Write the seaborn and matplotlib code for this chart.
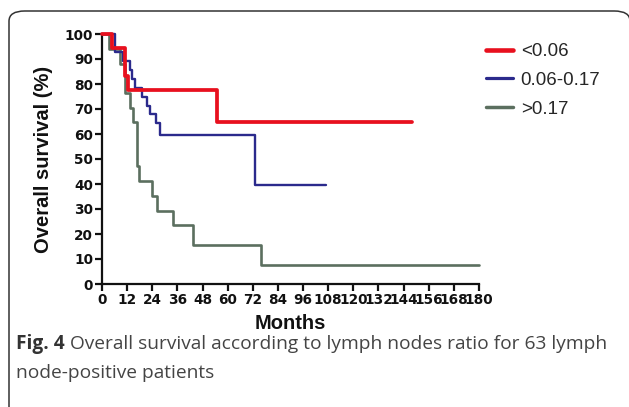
#%% modules
import pandas as pd
import seaborn as sns
import matplotlib.pyplot as plt
from matplotlib.lines import Line2D
from matplotlib.patches import FancyBboxPatch

#%% survival curves (months, overall survival %)
groups = ['<0.06', '0.06-0.17', '>0.17']

red_months = [0, 4.6, 11, 12.6, 55, 148]
red_surv = [100, 94.4, 83.3, 77.8, 64.8, 64.8]

blue_months = [0, 6.2, 10, 13.4, 14.3, 15.8, 19, 21.5, 23, 26, 27.7, 73, 107]
blue_surv = [100, 92.9, 89.3, 85.7, 82.1, 78.6, 75, 71.4, 67.9, 64.3, 59.5, 39.7, 39.7]

green_months = [0, 3.4, 8.6, 11, 13.4, 14.8, 16.7, 17.7, 23.7, 26.1, 33.9, 43.3, 75.8, 180]
green_surv = [100, 94.1, 88.2, 76.5, 70.6, 64.7, 47.1, 41.2, 35.3, 29.4, 23.5, 15.7, 7.8, 7.8]

x_ticks = list(range(0, 181, 12))
y_ticks = list(range(0, 101, 10))
caption_bold = 'Fig. 4'
caption_rest = 'Overall survival according to lymph nodes ratio for 63 lymph'
caption_line2 = 'node-positive patients'

colors = {'<0.06': '#e8101e', '0.06-0.17': '#2b2a8c', '>0.17': '#5b6f5f'}
widths = {'<0.06': 2.7, '0.06-0.17': 1.7, '>0.17': 1.9}

#%% long table for seaborn
df = pd.concat([
    pd.DataFrame({'months': red_months, 'survival': red_surv, 'group': groups[0]}),
    pd.DataFrame({'months': blue_months, 'survival': blue_surv, 'group': groups[1]}),
    pd.DataFrame({'months': green_months, 'survival': green_surv, 'group': groups[2]}),
], ignore_index=True)

#%% figure
sns.set_style('ticks')
plt.rcParams['font.family'] = ['Liberation Sans', 'DejaVu Sans']

fig = plt.figure(figsize=(6.29, 4.07), dpi=100)
ax = fig.add_axes([102 / 629, 1 - 284 / 407, 377 / 629, 250 / 407])

sns.lineplot(data=df, x='months', y='survival', hue='group', size='group',
             palette=colors, sizes=widths, hue_order=groups[::-1], size_order=groups[::-1],
             drawstyle='steps-post', estimator=None, sort=False, legend=False,
             ax=ax, clip_on=False, zorder=3)

ax.set_xlim(0, 180)
ax.set_ylim(0, 100)
ax.set_xticks(x_ticks)
ax.set_yticks(y_ticks)
for lab in ax.get_xticklabels() + ax.get_yticklabels():
    lab.set_family('DejaVu Sans')
    lab.set_fontweight('bold')
    lab.set_fontsize(9.8)
    lab.set_color('#111111')
ax.tick_params(axis='both', length=5, width=1.6, pad=1.5, colors='#111111')
for side in ['left', 'bottom']:
    ax.spines[side].set_linewidth(1.6)
    ax.spines[side].set_color('#111111')
sns.despine(ax=ax)

ax.set_xlabel('Months', fontsize=14.5, fontweight='bold', labelpad=5, color='#111111')
ax.set_ylabel('Overall survival (%)', fontsize=14.5, fontweight='bold', labelpad=8,
              color='#111111')

#%% legend
handles = [Line2D([], [], color=colors[g], lw=widths[g] + 0.6) for g in groups]
fig.legend(handles, groups, loc='upper left', bbox_to_anchor=(486 / 629, 1 - 43 / 407),
           frameon=False, fontsize=13.5, handlelength=1.45, handletextpad=0.4,
           labelspacing=0.62, borderaxespad=0, borderpad=0)

#%% caption and frame
t1 = fig.text(16 / 629, 1 - 349 / 407, caption_bold, fontsize=13.8, fontweight='bold',
              family='Open Sans', color='#333333')
fig.canvas.draw()
bb = t1.get_window_extent()
fig.text((bb.x1 + 5) / 629, 1 - 349 / 407, caption_rest, fontsize=13.8,
         family='Open Sans', color='#444444')
fig.text(16 / 629, 1 - 378 / 407, caption_line2, fontsize=13.8,
         family='Open Sans', color='#444444')

frame = FancyBboxPatch((9 / 629, -0.2), 621 / 629, 1.2 - 11 / 407,
                       boxstyle='round,pad=0,rounding_size=0.025',
                       transform=fig.transFigure, fill=False, lw=1.1,
                       edgecolor='#333333', clip_on=False)
fig.patches.append(frame)

fig.savefig('out.png', dpi=100)
